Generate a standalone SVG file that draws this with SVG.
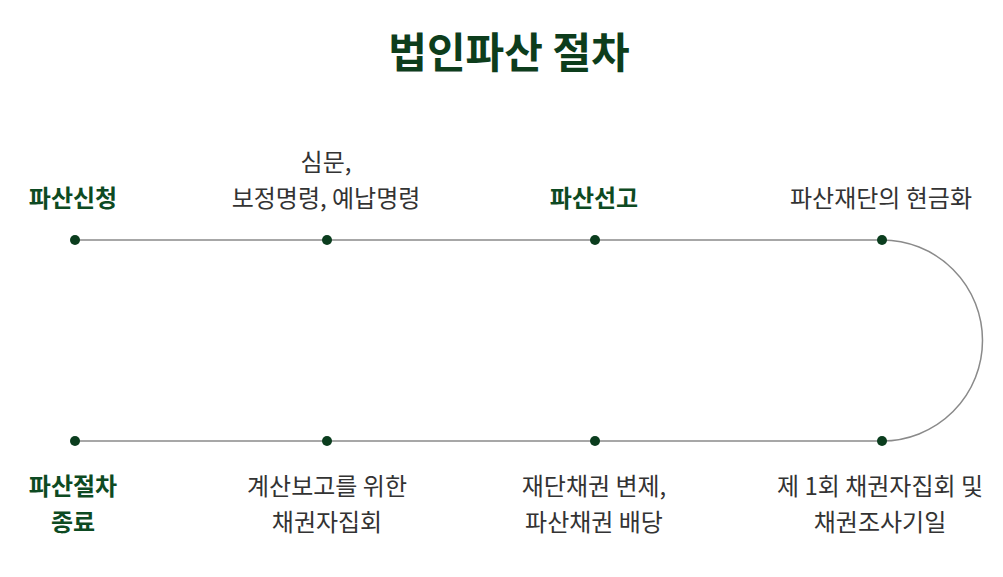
<svg xmlns="http://www.w3.org/2000/svg" width="1003" height="577" viewBox="0 0 1003 577">
<style>
text{font-family:"Noto Sans CJK KR","Noto Sans",sans-serif;text-anchor:middle}
.t{font-size:42px;font-weight:700;fill:#0d3d1c}
.g{font-size:24px;font-weight:700;fill:#0d4a22}
.n{font-size:24px;font-weight:400;fill:#333333}
.dot{fill:#0b3d1e}
.ln{fill:none;stroke:#8a8a8a;stroke-width:1.5}
</style>
<rect width="1003" height="577" fill="#ffffff"/>
<text class="t" x="509" y="68">법인파산 절차</text>
<g id="connectors">
<path class="ln" d="M75 240 H882 A100.5 100.5 0 0 1 882 441 H75"/>
</g>
<g id="n1"><circle class="dot" cx="75" cy="240" r="5"/><text class="g" x="73" y="207">파산신청</text></g>
<g id="n2"><circle class="dot" cx="327" cy="240" r="5"/><text class="n" x="326" y="171">심문,</text><text class="n" x="326" y="207">보정명령, 예납명령</text></g>
<g id="n3"><circle class="dot" cx="595" cy="240" r="5"/><text class="g" x="594" y="207">파산선고</text></g>
<g id="n4"><circle class="dot" cx="882" cy="240" r="5"/><text class="n" x="881" y="207">파산재단의 현금화</text></g>
<g id="n5"><circle class="dot" cx="882" cy="441" r="5"/><text class="n" x="880" y="495">제 1회 채권자집회 및</text><text class="n" x="880" y="531">채권조사기일</text></g>
<g id="n6"><circle class="dot" cx="595" cy="441" r="5"/><text class="n" x="594" y="495">재단채권 변제,</text><text class="n" x="594" y="531">파산채권 배당</text></g>
<g id="n7"><circle class="dot" cx="327" cy="441" r="5"/><text class="n" x="327" y="495">계산보고를 위한</text><text class="n" x="327" y="531">채권자집회</text></g>
<g id="n8"><circle class="dot" cx="75" cy="441" r="5"/><text class="g" x="73" y="495">파산절차</text><text class="g" x="73" y="531">종료</text></g>
</svg>
